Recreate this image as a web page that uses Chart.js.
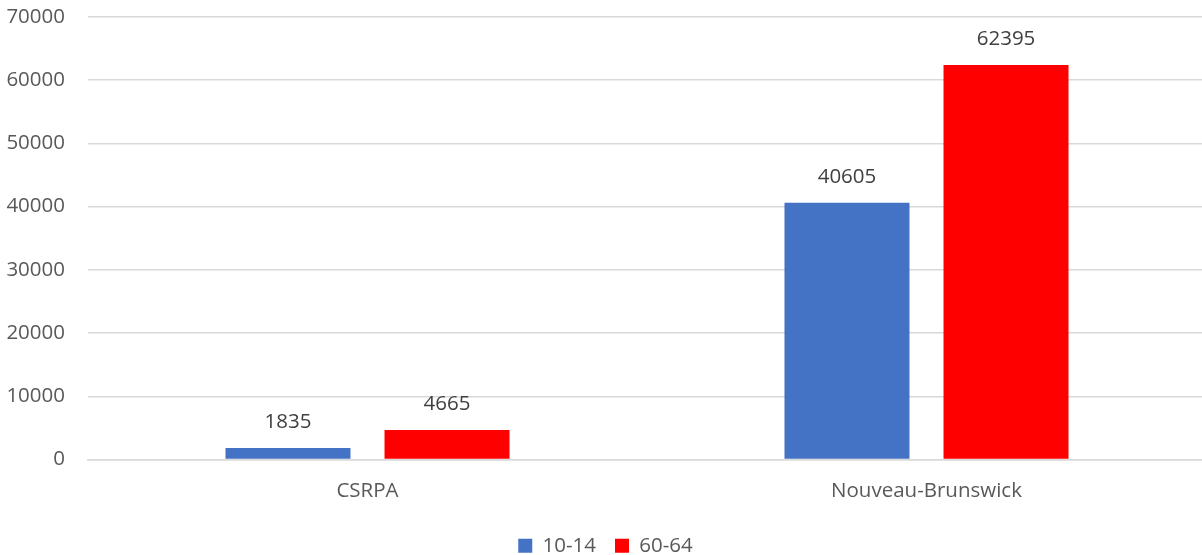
<!DOCTYPE html>
<html>
<head>
<meta charset="utf-8">
<script src="https://cdn.jsdelivr.net/npm/chart.js@4.4.1/dist/chart.umd.min.js"></script>
<style>
  html, body { margin: 0; padding: 0; background: #fff; overflow: hidden; }
  #wrap { width: 1202px; height: 555px; overflow: hidden; }
</style>
</head>
<body>
<div id="wrap"><canvas id="myChart" width="1206" height="555"></canvas></div>
<script>
const categorias = ['CSRPA', 'Nouveau-Brunswick']
const serie1014 = [1835, 40605]
const serie6064 = [4665, 62395]
const etiquetasSerie = ['10-14', '60-64']

const FUENTE = { family: 'Open Sans', size: 20.5 }

// dibuja el valor encima de cada barra
const valoresArriba = {
    id: 'valoresArriba',
    afterDatasetsDraw(chart) {
        const ctx = chart.ctx
        ctx.save()
        ctx.font = '20.5px "Open Sans"'
        ctx.fillStyle = '#404040'
        ctx.textAlign = 'center'
        ctx.textBaseline = 'middle'
        chart.data.datasets.forEach((ds, i) => {
            chart.getDatasetMeta(i).data.forEach((bar, j) => {
                ctx.fillText(String(ds.data[j]), bar.x, bar.y - 26)
            })
        })
        ctx.restore()
    }
}

var ctx = document.getElementById('myChart')
var myChart = new Chart(ctx, {
    type: 'bar',
    data: {
        labels: categorias,
        datasets: [{
            label: etiquetasSerie[0],
            data: serie1014,
            backgroundColor: '#4472C4',
            categoryPercentage: 0.569,
            barPercentage: 0.786
        }, {
            label: etiquetasSerie[1],
            data: serie6064,
            backgroundColor: '#FF0000',
            categoryPercentage: 0.569,
            barPercentage: 0.786
        }]
    },
    options: {
        responsive: false,
        animation: false,
        layout: { padding: { left: 5, right: 0, top: 17, bottom: -11 } },
        plugins: {
            tooltip: { enabled: false },
            legend: {
                position: 'bottom',
                labels: {
                    boxWidth: 14,
                    boxHeight: 14,
                    padding: 19,
                    color: '#595959',
                    font: FUENTE
                }
            }
        },
        scales: {
            x: {
                grid: { display: false, drawTicks: false },
                border: { color: '#d9d9d9', width: 1.5 },
                ticks: {
                    color: '#595959',
                    padding: 19,
                    font: FUENTE
                },
                afterFit(scale) { scale.height = 57 }
            },
            y: {
                min: 0,
                max: 70000,
                border: { display: false },
                grid: { color: '#d9d9d9', lineWidth: 1.5, drawTicks: false },
                ticks: {
                    stepSize: 10000,
                    padding: 23,
                    color: '#595959',
                    font: FUENTE,
                    callback: (v) => String(v)
                },
                afterFit(scale) {
                    scale.width = 83
                    scale.paddingTop = 12
                    scale.paddingBottom = 12
                }
            }
        }
    },
    plugins: [valoresArriba]
})
</script>
</body>
</html>
